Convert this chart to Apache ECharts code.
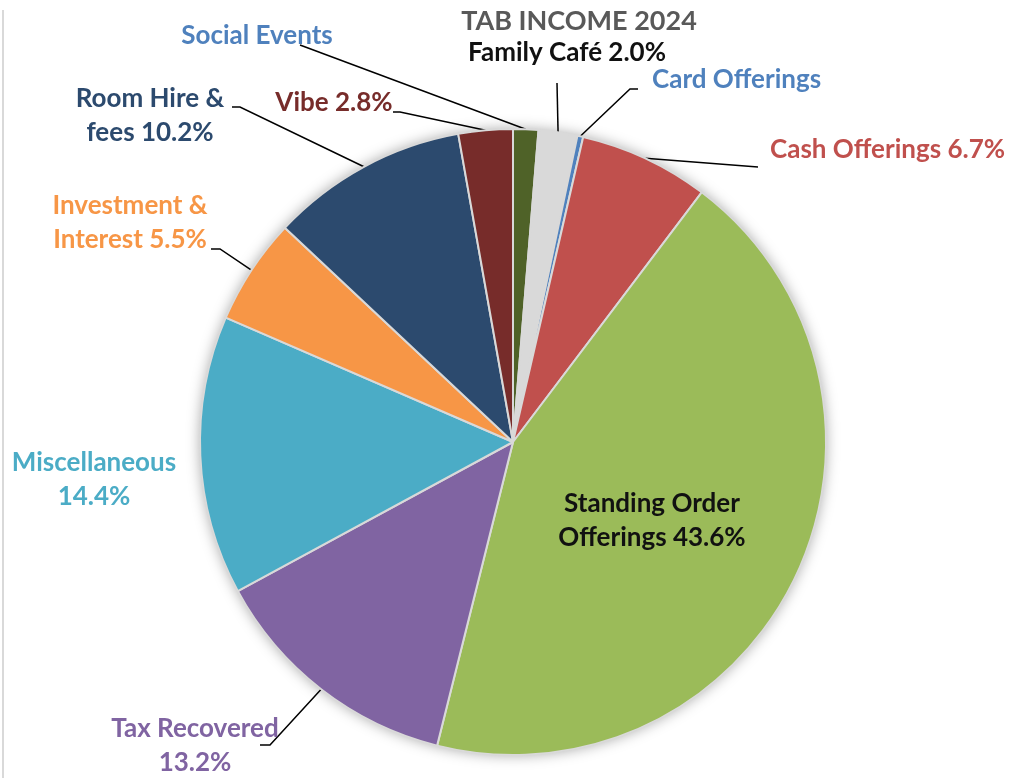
<!DOCTYPE html>
<html>
<head>
<meta charset="utf-8">
<script src="https://cdn.jsdelivr.net/npm/echarts@6/dist/echarts.min.js"></script>
<style>
html,body{margin:0;padding:0;background:#fff;}
#chart{width:1009px;height:778px;}
</style>
</head>
<body>
<div id="chart"></div>
<script>
// ---- data ----
const categories = ['Social Events','Family Café','Card Offerings','Cash Offerings','Standing Order Offerings','Tax Recovered','Miscellaneous','Investment & Interest','Room Hire & fees','Vibe'];
const values = [1.3, 2.0, 0.3, 6.7, 43.6, 13.2, 14.4, 5.5, 10.2, 2.8];
const labelTexts = ['Social Events','Family Café 2.0%','Card Offerings','Cash Offerings 6.7%','Standing Order\nOfferings 43.6%','Tax Recovered\n13.2%','Miscellaneous\n14.4%','Investment &\nInterest 5.5%','Room Hire &\nfees 10.2%','Vibe 2.8%'];
const sliceColors = ['#4f6228','#d9d9d9','#4f81bd','#c0504d','#9bbb59','#8064a2','#4bacc6','#f79646','#2c4a6e','#772c2a'];
const labelColors = ['#4f81bd','#111111','#4f81bd','#c0504d','#111111','#8064a2','#4bacc6','#f79646','#2c4a6e','#772c2a'];
const title = 'TAB INCOME 2024';

// ---- label placement (layout, not data) ----
const labelPos = [
  {x:257, y:36, align:'center', bend:[300,45], end:[300,45]},
  {x:567, y:53, align:'center', bend:[557,83], end:[557,83]},
  {x:652, y:80, align:'left', bend:[630,89], end:[638,89]},
  {x:770, y:150, align:'left', bend:[758,167], end:[758,167]},
  {x:652, y:521, align:'center', noLine:true},
  {x:195, y:746, align:'center', bend:[270,745], end:[260,745]},
  {x:94, y:480, align:'center', noLine:true},
  {x:130, y:223, align:'center', bend:[220,249], end:[211,249]},
  {x:150, y:116, align:'center', bend:[240,107], end:[232,107]},
  {x:334, y:103, align:'center', bend:[400,112], end:[393,112]}
];

const total = values.reduce((a,b)=>a+b,0);
const FONT = 'Lato, "Open Sans", sans-serif';
const center = [513, 442];
const radius = 313;

const chart = echarts.init(document.getElementById('chart'));
chart.setOption({
  backgroundColor:'#fff',
  animation:false,
  title:{
    text:title, left:574, top:3, textAlign:'center',
    textStyle:{color:'#595959', fontSize:27, fontWeight:'bold', fontFamily:FONT}
  },
  graphic:[{type:'rect', shape:{x:2, y:10, width:2, height:768}, style:{fill:'#d9d9d9'}}],
  series:[
    {
      type:'pie', silent:true, center:center, radius:radius, z:1,
      label:{show:false}, labelLine:{show:false},
      itemStyle:{color:'#fff', shadowBlur:14, shadowColor:'rgba(0,0,0,0.35)'},
      data:[{value:total, name:''}]
    },
    {
      type:'pie', center:center, radius:radius, startAngle:90, clockwise:true, z:2,
      avoidLabelOverlap:false,
      itemStyle:{borderColor:'#d9d9d9', borderWidth:2},
      label:{
        show:true, position:'outside', fontFamily:FONT, fontWeight:'bold', fontSize:26, lineHeight:34,
        formatter:(p)=>labelTexts[p.dataIndex]
      },
      labelLine:{show:true, lineStyle:{color:'#000', width:1.5}},
      labelLayout:(p)=>{
        const lp = labelPos[p.dataIndex];
        if(!lp) return {};
        const res = {x:lp.x, y:lp.y, align:lp.align, verticalAlign:'middle'};
        if(!lp.noLine && p.labelLinePoints){
          const p0 = p.labelLinePoints[0];
          res.labelLinePoints = [p0, lp.bend, lp.end];
        }
        return res;
      },
      data: categories.map((c,i)=>{
        const d = {name:c, value:values[i], itemStyle:{color:sliceColors[i]}, label:{color:labelColors[i]}};
        if(i===4){ d.label.position='inside'; d.labelLine={show:false}; }
        if(i===6){ d.labelLine={show:false}; }
        return d;
      })
    }
  ]
});
</script>
</body>
</html>
